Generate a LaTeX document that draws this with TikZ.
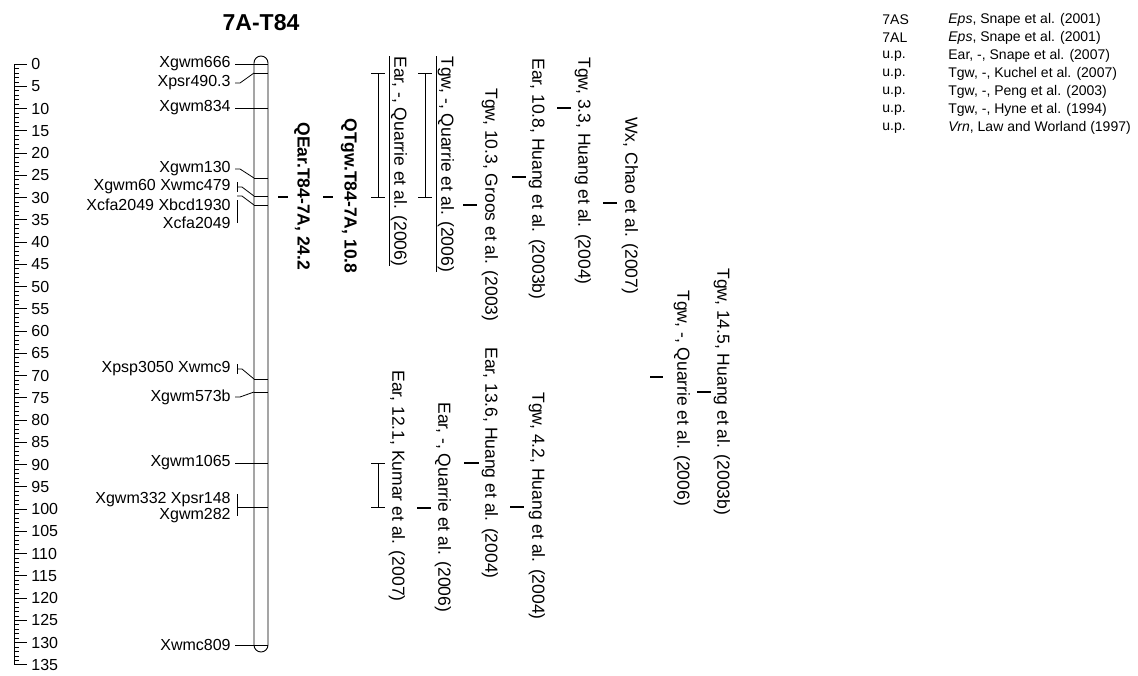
\documentclass[tikz,border=0pt]{standalone}
\usepackage{fontspec}
\setmainfont{Liberation Sans}
\begin{document}
\begin{tikzpicture}[x=1pt,y=-1pt,line width=0.8pt,
  lab/.style={font=\fontsize{16}{19}\selectfont,inner sep=0pt},
  mk/.style={lab,anchor=east},
  vlab/.style={inner sep=0pt,rotate=-90,anchor=west,font=\fontsize{17.5}{21}\selectfont},
  blab/.style={vlab,font=\fontsize{17.5}{21}\selectfont\bfseries},
  qtick/.style={line width=1.3pt},
  qbar/.style={line width=0.8pt},
  leg/.style={inner sep=0pt,anchor=west,font=\fontsize{14}{17}\selectfont}]
\useasboundingbox (0,0) rectangle (1138,675);
% scale
\draw (14,64) -- (14,665);
\foreach \c in {0,...,135} \draw[line width=0.6pt] (14,{64+4.45*\c}) -- (19,{64+4.45*\c});
\foreach \c in {0,5,...,135} {
  \draw (14,{64+4.45*\c}) -- (27,{64+4.45*\c});
  \node[lab,anchor=west] (s\c) at (31,{64+4.45*\c}) {\c};
}
% title
\node[lab,font=\fontsize{23}{27}\selectfont\bfseries] (title) at (261,23) {7A-T84};
% chromosome
\draw[line width=0.9pt,rounded corners=7pt] (254,56) rectangle (268,652);
\foreach \n/\y in {1/64,2/73,3/108,4/178,5/196,6/205,8/379,9/392,10/463,11/507,13/645} {
  \coordinate (cl\n) at (254,\y);
  \coordinate (cr\n) at (268,\y);
  \draw (cl\n) -- (cr\n);
}
% marker labels
\node[mk] (m1) at (231,64) {Xgwm666};
\node[mk] (m2) at (231,83) {Xpsr490.3};
\node[mk] (m3) at (231,108) {Xgwm834};
\node[mk] (m4) at (231,169) {Xgwm130};
\node[mk] (m5) at (231,187) {Xgwm60 Xwmc479};
\node[mk] (m6) at (231,205) {Xcfa2049 Xbcd1930};
\node[mk] (m7) at (231,223) {Xcfa2049};
\node[mk] (m8) at (231,369) {Xpsp3050 Xwmc9};
\node[mk] (m9) at (231,397) {Xgwm573b};
\node[mk] (m10) at (231,463) {Xgwm1065};
\node[mk] (m11) at (231,500) {Xgwm332 Xpsr148};
\node[mk] (m12) at (231,516) {Xgwm282};
\node[mk] (m13) at (231,645) {Xwmc809};
% connectors
\draw ([xshift=4pt]m1.east) -- (cl1);
\draw ([xshift=4pt]m2.east) -- ++(5,0) -- (cl2);
\draw ([xshift=4pt]m3.east) -- (cl3);
\draw ([xshift=4pt]m4.east) -- ++(5,0) -- (cl4);
\draw ([xshift=6pt]m5.east) ++(0,-5) -- ++(0,10);
\draw ([xshift=6pt]m5.east) -- ++(5,0) -- (cl5);
\draw ([xshift=6pt]m6.east) ++(0,-5) -- ([xshift=6pt]m7.east) ++(0,5);
\draw ([xshift=6pt,yshift=9pt]m6.east) -- ++(5,0) -- (cl6);
\draw ([xshift=6pt]m8.east) ++(0,-5) -- ++(0,10);
\draw ([xshift=6pt]m8.east) -- ++(5,0) -- (cl8);
\draw ([xshift=4pt]m9.east) -- ++(5,0) -- (cl9);
\draw ([xshift=4pt]m10.east) -- (cl10);
\draw ([xshift=6pt]m11.east) ++(0,-6) -- ([xshift=6pt]m12.east) ++(0,6);
\draw (237,507) -- (cl11);
\draw ([xshift=4pt]m13.east) -- (cl13);
% QTL labels
\node[blab] (q1) at (302,122) {QEar.T84-7A, 24.2};
\draw[qtick] (278,197) -- (288,197);
\node[blab] (q2) at (349,118) {QTgw.T84-7A, 10.8};
\draw[qtick] (323,197) -- (333,197);
\node[vlab] (q3) at (398,56) {\underline{Ear, -, Quarrie et al. (2006)}};
\draw[qbar] (371,73) -- (385,73) (378,73) -- (378,197) (371,197) -- (385,197);
\node[vlab] (q4) at (445,56) {\underline{Tgw, -, Quarrie et al. (2006)}};
\draw[qbar] (418,73) -- (432,73) (425,73) -- (425,197) (418,197) -- (432,197);
\node[vlab] (q5) at (490,88) {Tgw, 10.3, Groos et al. (2003)};
\draw[qtick] (463,205) -- (477,205);
\node[vlab] (q6) at (537,58) {Ear, 10.8, Huang et al. (2003b)};
\draw[qtick] (512,177) -- (526,177);
\node[vlab] (q7) at (583,57) {Tgw, 3.3, Huang et al. (2004)};
\draw[qtick] (557,108) -- (571,108);
\node[vlab] (q8) at (630,117) {Wx, Chao et al. (2007)};
\draw[qtick] (603,203) -- (617,203);
\node[vlab] (q9) at (682,290) {Tgw, -, Quarrie et al. (2006)};
\draw[qtick] (650,377) -- (663,377);
\node[vlab] (q10) at (722,268) {Tgw, 14.5, Huang et al. (2003b)};
\draw[qtick] (697,392) -- (711,392);
\node[vlab] (q11) at (397,370) {Ear, 12.1, Kumar et al. (2007)};
\draw[qbar] (371,463) -- (385,463) (378,463) -- (378,507) (371,507) -- (385,507);
\node[vlab] (q12) at (443,402) {Ear, -, Quarrie et al. (2006)};
\draw[qtick] (417,508) -- (431,508);
\node[vlab] (q13) at (490,347) {Ear, 13.6, Huang et al. (2004)};
\draw[qtick] (464,463) -- (479,463);
\node[vlab] (q14) at (537,392) {Tgw, 4.2, Huang et al. (2004)};
\draw[qtick] (510,507) -- (524,507);
% legend
\node[leg] (la1) at (882,20) {7AS};  \node[leg] (lb1) at (948,20) {\textit{Eps}, Snape et al. (2001)};
\node[leg] (la2) at (882,38) {7AL};  \node[leg] (lb2) at (948,38) {\textit{Eps}, Snape et al. (2001)};
\node[leg] (la3) at (882,56) {u.p.}; \node[leg] (lb3) at (948,56) {Ear, -, Snape et al. (2007)};
\node[leg] (la4) at (882,74) {u.p.}; \node[leg] (lb4) at (948,74) {Tgw, -, Kuchel et al. (2007)};
\node[leg] (la5) at (882,92) {u.p.}; \node[leg] (lb5) at (948,92) {Tgw, -, Peng et al. (2003)};
\node[leg] (la6) at (882,110) {u.p.}; \node[leg] (lb6) at (948,110) {Tgw, -, Hyne et al. (1994)};
\node[leg] (la7) at (882,128) {u.p.}; \node[leg] (lb7) at (948,128) {\textit{Vrn}, Law and Worland (1997)};
\end{tikzpicture}
\end{document}
